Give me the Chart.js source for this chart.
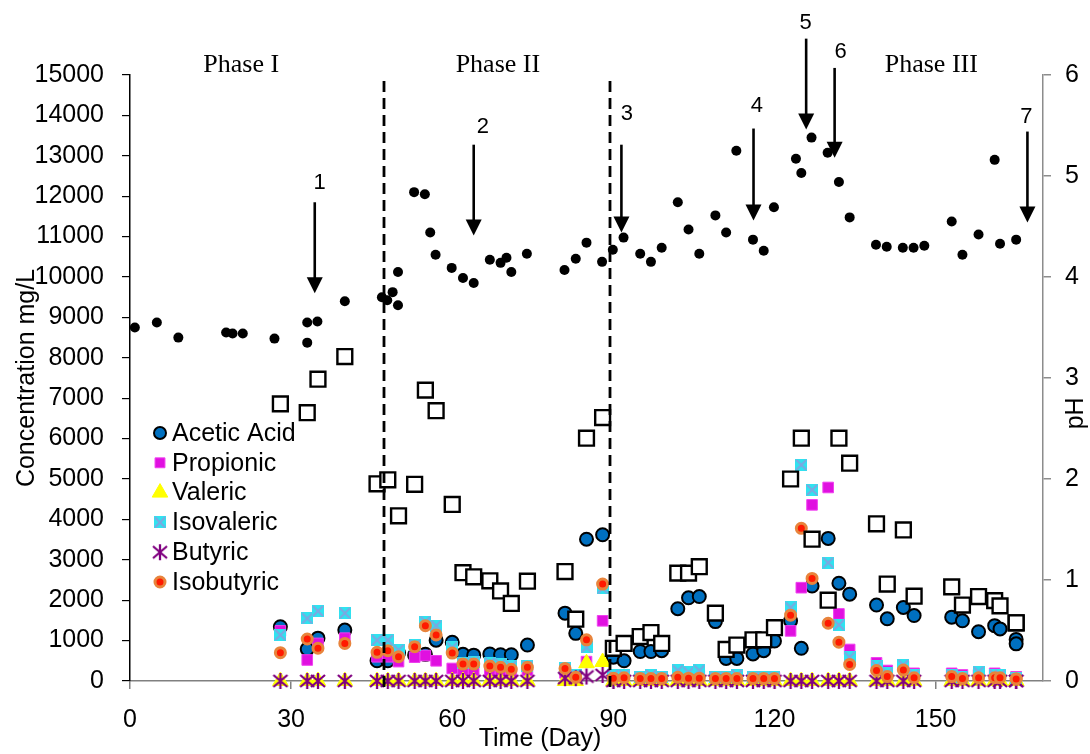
<!DOCTYPE html>
<html>
<head>
<meta charset="utf-8">
<script src="https://cdn.jsdelivr.net/npm/chart.js@4.4.0/dist/chart.umd.min.js"></script>
<style>
  html, body { margin: 0; padding: 0; background: #fff; }
  #wrap { width: 1090px; height: 754px; }
</style>
</head>
<body>
<div id="wrap"><canvas id="chart" width="1090" height="754"></canvas></div>
<script>
// sampling days for the VFA measurements (day 165 has two acetic readings)
const vfaDays = [28, 33, 35, 40, 46, 48, 50, 53, 55, 57, 60, 62, 64, 67, 69, 71, 74, 81, 83, 85, 88,
  90, 92, 95, 97, 99, 102, 104, 106, 109, 111, 113, 116, 118, 120, 123, 125, 127, 130, 132, 134,
  139, 141, 144, 146, 153, 155, 158, 161, 162, 165, 165];

const acetic = [1344, 790, 1060, 1260, 500, 500, 700, 640, 660, 1010, 960, 660, 640, 670, 650, 650, 890,
  1680, 1180, 3510, 3620, 590, 500, 730, 730, 750, 1790, 2060, 2090, 1470, 560, 560, 670, 750, 990,
  1490, 810, 2350, 3530, 2420, 2150, 1880, 1540, 1820, 1620, 1580, 1490, 1220, 1370, 1290, 1030, 920];
const propionic = [1240, 520, 930, 1060, 600, 600, 480, 590, 630, 500, 310, 270, 270, 230, 200, 200, 270,
  200, 150, 480, 1490, 80, 100, 80, 100, 80, 150, 120, 150, 80, 80, 100, 80, 80, 80,
  1240, 2310, 4360, 4790, 1660, 780, 450, 260, 360, 190, 190, 150, 150, 190, 150, 100, 100];
const valeric = [0, 0, 0, 0, 0, 0, 0, 0, 0, 0, 0, 0, 0, 0, 0, 0, 0,
  0, 0, 440, 470, 0, 0, 0, 0, 0, 0, 0, 0, 0, 0, 0, 0, 0, 0,
  0, 0, 0, 0, 0, 0, 0, 0, 0, 0, 0, 0, 0, 0, 0, 0, 0];
const isovaleric = [1140, 1550, 1730, 1680, 1010, 1010, 770, 890, 1470, 1370, 830, 440, 480, 450, 420, 370, 370,
  310, 150, 830, 2290, 150, 150, 100, 150, 100, 260, 220, 260, 100, 100, 150, 100, 100, 100,
  1820, 5350, 4730, 2930, 1390, 590, 370, 190, 400, 150, 150, 100, 230, 150, 150, 80, 80];
const butyric = [0, 0, 0, 0, 0, 0, 0, 0, 0, 0, 0, 0, 0, 0, 0, 0, 0,
  70, 70, 110, 150, 0, 0, 0, 0, 0, 0, 0, 0, 0, 0, 0, 0, 0, 0,
  0, 0, 0, 0, 0, 0, 0, 0, 0, 0, 0, 0, 0, 0, 0, 0, 0];
const isobutyric = [700, 1040, 810, 930, 710, 750, 600, 850, 1370, 1140, 690, 420, 420, 370, 340, 290, 340,
  310, 90, 1020, 2400, 70, 80, 60, 60, 60, 90, 70, 70, 60, 60, 60, 60, 60, 60,
  1630, 3780, 2540, 1430, 960, 410, 260, 110, 270, 80, 110, 60, 80, 80, 80, 50, 50];
const totalVfa = [6860, 6640, 7470, 8030, 4880, 4980, 4090, 4870, 7200, 6690, 4370, 2680, 2580, 2480, 2230, 1920, 2470,
  2710, 1530, 6010, 6520, 810, 930, 1100, 1200, 930, 2670, 2670, 2830, 1680, 780, 890, 1020, 1020, 1320,
  5000, 6010, 3510, 2000, 6010, 5390, 3890, 2400, 3740, 2100, 2330, 1880, 2090, 1990, 1860, 1440, 1440];

// pH readings
const phDays = [0.9, 5, 9, 17.9, 19.1, 21, 26.9, 33, 33, 34.9, 40, 46.9, 47.9, 48.9, 49.9, 49.9,
  52.9, 54.9, 55.9, 56.9, 59.9, 62, 64, 67, 69, 70.1, 71, 73.9, 80.9, 83, 85, 87.9, 89.9,
  91.9, 95, 97, 99, 102, 104, 106, 109, 111, 112.9, 116, 118, 119.9, 124, 125, 126.9, 129.9, 132, 134,
  138.9, 140.9, 143.9, 145.9, 147.9, 153, 155, 158, 161, 162, 165];
const phValues = [3.50, 3.55, 3.40, 3.45, 3.44, 3.44, 3.39, 3.35, 3.55, 3.56, 3.76, 3.80, 3.77, 3.85, 3.72, 4.05,
  4.84, 4.82, 4.44, 4.22, 4.09, 3.99, 3.94, 4.17, 4.14, 4.19, 4.05, 4.23, 4.07, 4.18, 4.34, 4.15, 4.27,
  4.39, 4.23, 4.15, 4.29, 4.74, 4.47, 4.23, 4.61, 4.44, 5.25, 4.37, 4.26, 4.69, 5.17, 5.03, 5.38, 5.23, 4.94, 4.59,
  4.32, 4.30, 4.29, 4.29, 4.31, 4.55, 4.22, 4.42, 5.16, 4.33, 4.37];

// phases and event arrows (x in days, y in pH units)
const phaseNames = ["Phase I", "Phase II", "Phase III"];
const phaseLabelDays = [20.7, 68.5, 149.2];
const phaseBoundaries = [47.3, 89.3];
const arrowLabels = ["1", "2", "3", "4", "5", "6", "7"];
const arrowDays = [34.4, 64.0, 91.5, 116.1, 125.9, 131.2, 167.1];
const arrowTops = [4.74, 5.31, 5.31, 5.47, 6.36, 6.07, 5.44];
const arrowTips = [3.84, 4.41, 4.44, 4.56, 5.46, 5.18, 4.54];
const arrowLabelDays = [35.3, 65.7, 92.5, 116.7, 125.8, 132.3, 166.9];
const arrowLabelPh = [4.93, 5.49, 5.61, 5.69, 6.52, 6.23, 5.58];

const SANS = "'Liberation Sans', Arial, sans-serif";
const SERIF = "'Liberation Serif', 'Times New Roman', serif";

function pts(days, vals) {
  return days.map((d, i) => ({ x: d, y: vals[i] }));
}

// custom markers
function makeAsterisk() {
  const c = document.createElement("canvas");
  c.width = 18; c.height = 18;
  const g = c.getContext("2d");
  g.strokeStyle = "#800080";
  g.lineWidth = 2.3;
  g.beginPath();
  g.moveTo(9, 1); g.lineTo(9, 17);
  g.moveTo(2, 3); g.lineTo(16, 15);
  g.moveTo(2, 15); g.lineTo(16, 3);
  g.stroke();
  return c;
}
function makeIsoSquare() {
  const c = document.createElement("canvas");
  c.width = 12; c.height = 12;
  const g = c.getContext("2d");
  g.fillStyle = "#2FE3F0";
  g.fillRect(0, 0, 12, 12);
  g.strokeStyle = "#7FA6E0";
  g.lineWidth = 1.8;
  g.beginPath();
  g.moveTo(1, 1); g.lineTo(11, 11);
  g.moveTo(11, 1); g.lineTo(1, 11);
  g.stroke();
  return c;
}
const asteriskImg = makeAsterisk();
const isoImg = makeIsoSquare();

const legendItems = [
  { label: "Acetic Acid", style: "circle", radius: 6, fill: "#0070C0", stroke: "#000", bw: 2 },
  { label: "Propionic", style: "rect", radius: 7, fill: "#E010E0", stroke: "#F040F0", bw: 1 },
  { label: "Valeric", style: "triangle", radius: 9, fill: "#FFFF00", stroke: "#FFFF00", bw: 1 },
  { label: "Isovaleric", style: isoImg, radius: 6, fill: "#2FE3F0", stroke: "#2FE3F0", bw: 0 },
  { label: "Butyric", style: asteriskImg, radius: 8, fill: "#800080", stroke: "#800080", bw: 0 },
  { label: "Isobutyric", style: "circle", radius: 5, fill: "#FF1A00", stroke: "#E8843C", bw: 3 }
];

const overlay = {
  id: "overlay",
  afterDatasetsDraw(chart) {
    const ctx = chart.ctx;
    const xs = chart.scales.x;
    const area = chart.chartArea;
    ctx.save();
    ctx.strokeStyle = "#000";
    ctx.lineWidth = 2.8;
    ctx.setLineDash([11, 6]);
    phaseBoundaries.forEach(d => {
      const px = Math.round(xs.getPixelForValue(d));
      ctx.beginPath();
      ctx.moveTo(px, area.top + 6);
      ctx.lineTo(px, area.bottom + 8);
      ctx.stroke();
    });
    ctx.restore();
  },
  afterDraw(chart) {
    const ctx = chart.ctx;
    const xs = chart.scales.x;
    const ph = chart.scales.y2;
    const area = chart.chartArea;
    ctx.save();

    // phase labels
    ctx.fillStyle = "#000";
    ctx.font = "26px " + SERIF;
    ctx.textAlign = "center";
    ctx.textBaseline = "middle";
    phaseNames.forEach((n, i) => {
      ctx.fillText(n, xs.getPixelForValue(phaseLabelDays[i]), area.top - 10);
    });

    // arrows
    ctx.strokeStyle = "#000";
    ctx.lineWidth = 2.6;
    ctx.font = "22px " + SANS;
    arrowLabels.forEach((lab, i) => {
      const px = xs.getPixelForValue(arrowDays[i]);
      const top = ph.getPixelForValue(arrowTops[i]);
      const tip = ph.getPixelForValue(arrowTips[i]);
      ctx.beginPath();
      ctx.moveTo(px, top);
      ctx.lineTo(px, tip - 12);
      ctx.stroke();
      ctx.beginPath();
      ctx.moveTo(px - 8, tip - 16);
      ctx.lineTo(px + 8, tip - 16);
      ctx.lineTo(px, tip);
      ctx.closePath();
      ctx.fill();
      ctx.fillText(lab, xs.getPixelForValue(arrowLabelDays[i]), ph.getPixelForValue(arrowLabelPh[i]));
    });

    // legend
    const lx = area.left + 30;
    let ly = area.top + 358;
    ctx.font = "25px " + SANS;
    ctx.textAlign = "left";
    legendItems.forEach(it => {
      ctx.fillStyle = it.fill;
      ctx.strokeStyle = it.stroke;
      ctx.lineWidth = it.bw;
      Chart.helpers.drawPoint(ctx, { pointStyle: it.style, radius: it.radius, rotation: 0, borderWidth: it.bw }, lx, ly);
      ctx.fillStyle = "#000";
      ctx.fillText(it.label, lx + 12, ly + 1);
      ly += 29.8;
    });

    // axis titles
    ctx.fillStyle = "#000";
    ctx.font = "25px " + SANS;
    ctx.textAlign = "center";
    ctx.fillText("Time (Day)", 540, area.bottom + 58);
    ctx.save();
    ctx.translate(27, (area.top + area.bottom) / 2);
    ctx.rotate(-Math.PI / 2);
    ctx.fillText("Concentration mg/L", 0, 0);
    ctx.restore();
    ctx.save();
    ctx.translate(1076, ph.getPixelForValue(2.65));
    ctx.rotate(-Math.PI / 2);
    ctx.fillText("pH", 0, 0);
    ctx.restore();

    ctx.restore();
  }
};

const datasets = [
  { label: "pH", data: pts(phDays, phValues), yAxisID: "y2", order: 1,
    pointStyle: "circle", pointRadius: 5, backgroundColor: "#000", borderColor: "#000", borderWidth: 0 },
  { label: "Total", data: pts(vfaDays, totalVfa), yAxisID: "y", order: 2,
    pointStyle: "rect", pointRadius: 10.5, backgroundColor: "#fff", borderColor: "#000", borderWidth: 2.4 },
  { label: "Isobutyric", data: pts(vfaDays, isobutyric), yAxisID: "y", order: 3,
    pointStyle: "circle", pointRadius: 5, backgroundColor: "#FF1A00", borderColor: "#E8843C", borderWidth: 3 },
  { label: "Butyric", data: pts(vfaDays, butyric), yAxisID: "y", order: 4,
    pointStyle: asteriskImg, pointRadius: 8 },
  { label: "Isovaleric", data: pts(vfaDays, isovaleric), yAxisID: "y", order: 5,
    pointStyle: isoImg, pointRadius: 6 },
  { label: "Valeric", data: pts(vfaDays, valeric), yAxisID: "y", order: 6,
    pointStyle: "triangle", pointRadius: 9, backgroundColor: "#FFFF00", borderColor: "#FFFF00", borderWidth: 1 },
  { label: "Propionic", data: pts(vfaDays, propionic), yAxisID: "y", order: 7,
    pointStyle: "rect", pointRadius: 7.5, backgroundColor: "#E010E0", borderColor: "#F040F0", borderWidth: 1 },
  { label: "Acetic Acid", data: pts(vfaDays, acetic), yAxisID: "y", order: 8,
    pointStyle: "circle", pointRadius: 6.5, backgroundColor: "#0070C0", borderColor: "#000", borderWidth: 2 }
];
datasets.forEach(d => { d.clip = false; });

new Chart(document.getElementById("chart"), {
  type: "scatter",
  data: { datasets: datasets },
  options: {
    responsive: false,
    animation: false,
    events: [],
    layout: { padding: { top: 75, left: 0, right: 0, bottom: 0 } },
    plugins: { legend: { display: false }, tooltip: { enabled: false } },
    scales: {
      x: {
        type: "linear", min: 0, max: 170,
        ticks: { stepSize: 30, color: "#000", font: { size: 25, family: SANS }, padding: 16 },
        grid: { drawOnChartArea: false, tickLength: 8, color: "#808080", lineWidth: 1.5 },
        border: { color: "#808080", width: 1.5 },
        afterBuildTicks: s => { s.ticks = s.ticks.filter(t => t.value % 30 === 0); },
        afterFit: s => { s.height = 73; }
      },
      y: {
        position: "left", min: 0, max: 15000,
        ticks: { stepSize: 1000, color: "#000", font: { size: 25, family: SANS }, padding: 18,
          callback: v => String(v) },
        grid: { drawOnChartArea: false, tickLength: 8, color: "#000", lineWidth: 1.2 },
        border: { color: "#000", width: 1.5 },
        afterFit: s => { s.width = 130; }
      },
      y2: {
        position: "right", min: 0, max: 6,
        ticks: { stepSize: 1, color: "#000", font: { size: 25, family: SANS }, padding: 14 },
        grid: { drawOnChartArea: false, tickLength: 8, color: "#8c8c8c", lineWidth: 1.5 },
        border: { color: "#8c8c8c", width: 1.5 },
        afterFit: s => { s.width = 47; }
      }
    }
  },
  plugins: [overlay]
});
</script>
</body>
</html>
